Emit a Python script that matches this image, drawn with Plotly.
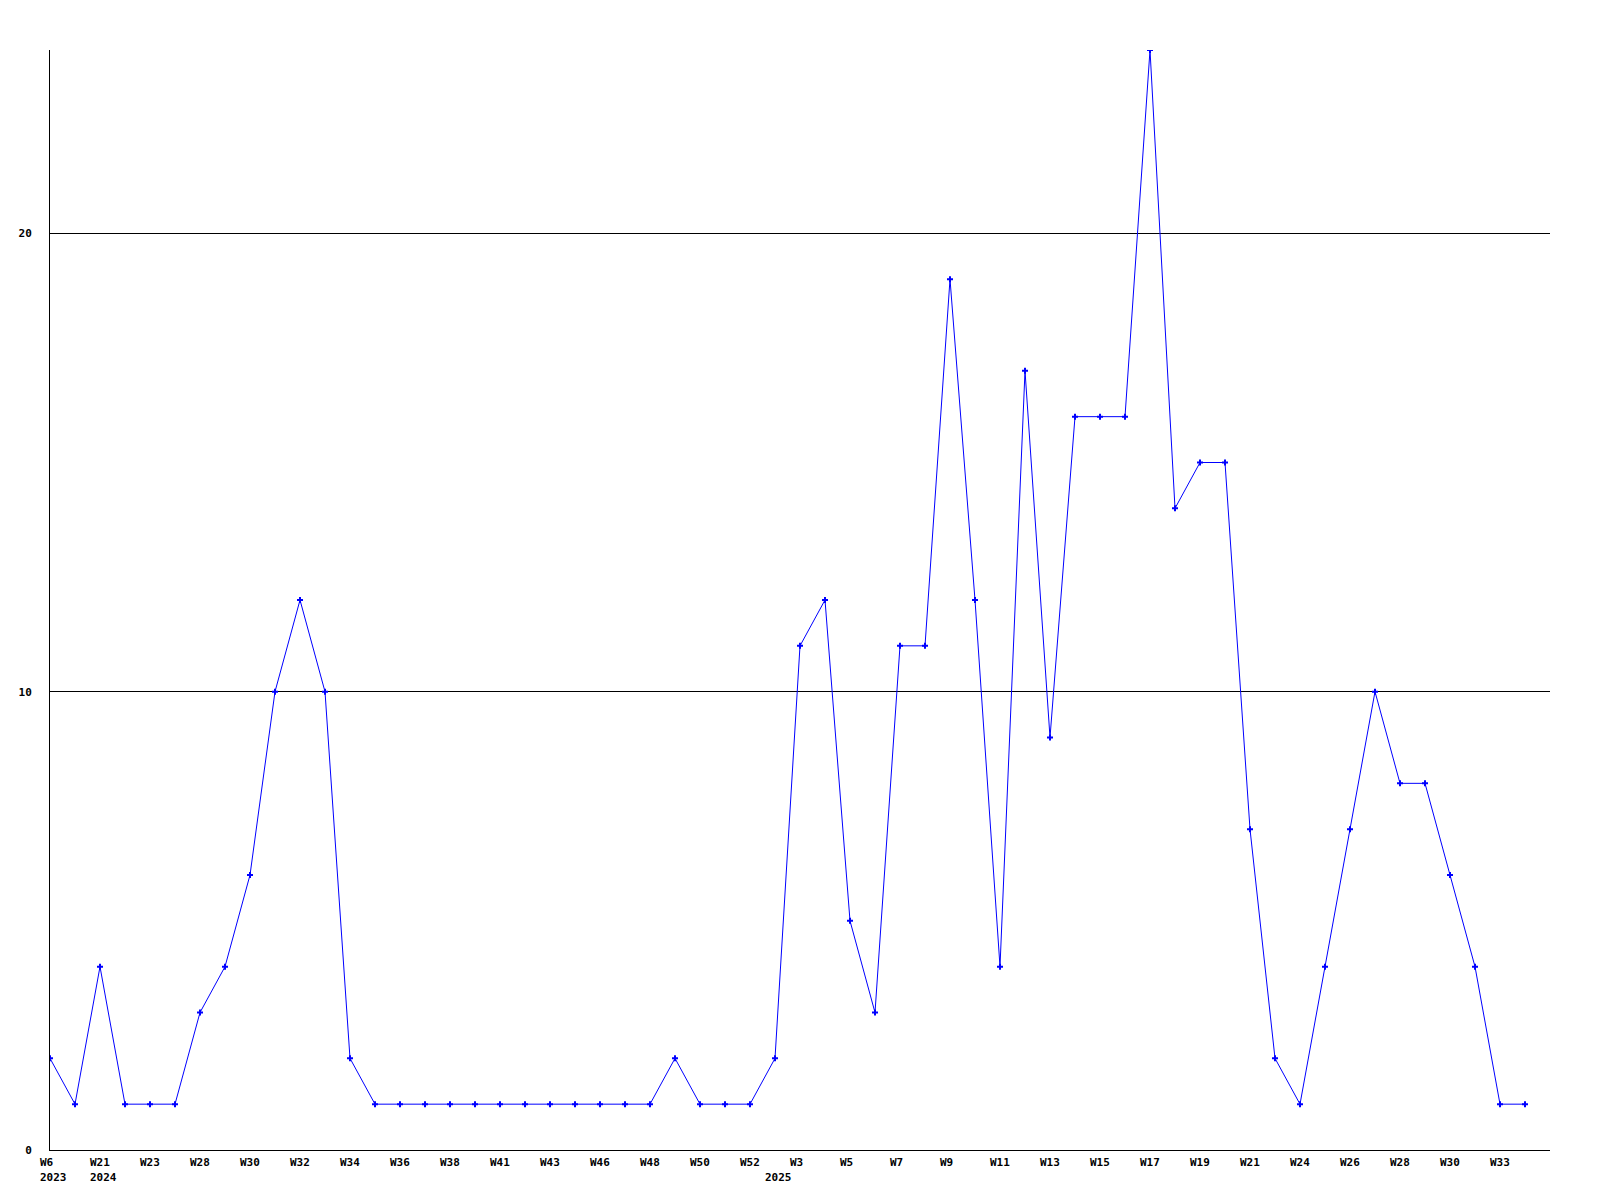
import plotly.graph_objects as go

weeks = ["W6", "W52", "W21", "W22", "W23", "W25", "W28", "W29", "W30", "W31",
         "W32", "W33", "W34", "W35", "W36", "W37", "W38", "W40", "W41", "W42",
         "W43", "W45", "W46", "W47", "W48", "W49", "W50", "W51", "W52", "W1",
         "W3", "W4", "W5", "W6", "W7", "W8", "W9", "W10", "W11", "W12",
         "W13", "W14", "W15", "W16", "W17", "W18", "W19", "W20", "W21", "W22",
         "W24", "W25", "W26", "W27", "W28", "W29", "W30", "W31", "W33", "W34"]
years = [2023, 2023] + [2024] * 27 + [2025] * 31
values = [2, 1, 4, 1, 1, 1, 3, 4, 6, 10, 12, 10, 2,
          1, 1, 1, 1, 1, 1, 1, 1, 1, 1, 1, 1,
          2, 1, 1, 1, 2, 11, 12, 5, 3, 11, 11, 19, 12, 4, 17, 9,
          16, 16, 16, 24, 14, 15, 15, 7, 2, 1, 4, 7, 10, 8, 8, 6, 4, 1, 1]
y_ticks = [0, 10, 20]

FONT = dict(family="DejaVu Sans Mono", size=11, color="black", weight="bold")

xs = list(range(len(values)))
fig = go.Figure()
fig.add_trace(go.Scatter(
    x=xs, y=values, mode="lines+markers",
    line=dict(color="#0000ff", width=1),
    marker=dict(symbol="cross", size=5, color="#0000ff", line=dict(width=0)),
    hoverinfo="skip", showlegend=False,
))

annotations = []
prev_year = None
for i, (w, yr) in enumerate(zip(weeks, years)):
    if i % 2 == 0:
        annotations.append(dict(x=i, y=0, xref="x", yref="paper", text=w,
                                showarrow=False, xanchor="left", yanchor="top",
                                xshift=-12, yshift=-4, font=FONT))
    if yr != prev_year:
        annotations.append(dict(x=i, y=0, xref="x", yref="paper", text=str(yr),
                                showarrow=False, xanchor="left", yanchor="top",
                                xshift=-12, yshift=-19, font=FONT))
    prev_year = yr

fig.update_layout(
    width=1600, height=1200,
    margin=dict(l=42, r=58, t=42, b=58, pad=0, autoexpand=False),
    paper_bgcolor="white", plot_bgcolor="white",
    font=FONT,
    annotations=annotations,
    xaxis=dict(range=[0, 60], showgrid=False, zeroline=False, showticklabels=False,
               ticks="", showline=True, linecolor="black", linewidth=1),
    yaxis=dict(range=[0, 24], tickvals=y_ticks, ticktext=[str(v) for v in y_ticks],
               showgrid=True, gridcolor="black", gridwidth=1, zeroline=False,
               showline=True, linecolor="black", linewidth=1, ticks="",
               ticklabelstandoff=15, tickfont=FONT),
)

fig.write_html("out.html")
